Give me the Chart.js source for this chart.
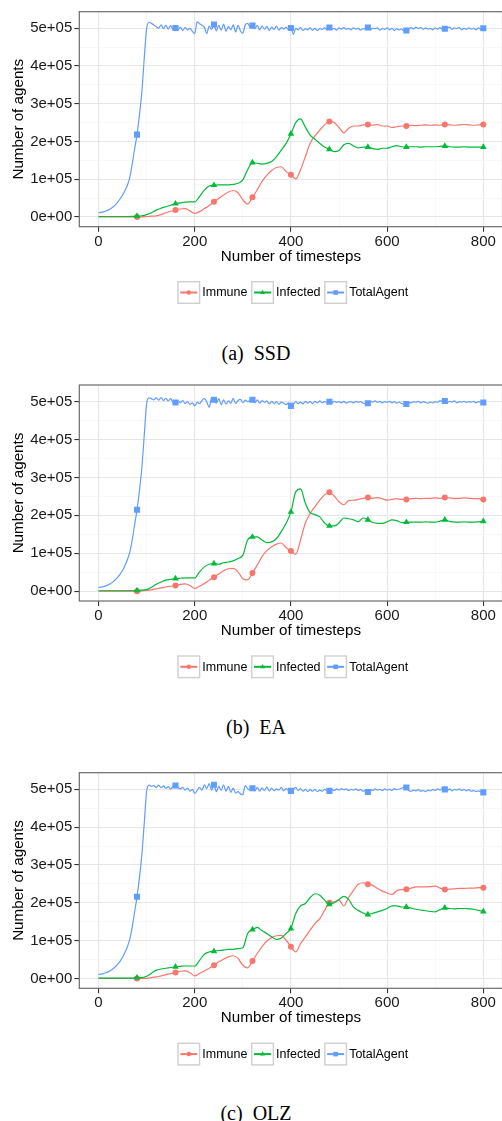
<!DOCTYPE html>
<html><head><meta charset="utf-8">
<script src="https://cdn.jsdelivr.net/npm/chart.js@4.4.1/dist/chart.umd.min.js"></script>
<style>
html,body{margin:0;padding:0;background:#fff;overflow:hidden;width:502px;height:1121px;position:relative;}
.panel{position:absolute;left:0;width:502px;height:320px;overflow:hidden;}
.cap{position:absolute;left:0;width:512px;text-align:center;font-family:"Liberation Serif","Times New Roman",serif;font-size:20px;color:#000;word-spacing:5px;line-height:1;white-space:nowrap;}
</style></head><body>
<div class="panel" id="p1" style="top:0px"><canvas id="c1" width="510" height="320"></canvas></div>
<div class="cap" style="top:343px">(a) SSD</div>
<div class="panel" id="p2" style="top:373px"><canvas id="c2" width="510" height="320"></canvas></div>
<div class="cap" style="top:717px">(b) EA</div>
<div class="panel" id="p3" style="top:761px"><canvas id="c3" width="510" height="320"></canvas></div>
<div class="cap" style="top:1103px">(c) OLZ</div>
<script>
// ---------------- data ----------------
const seriesNames = ['Immune', 'Infected', 'TotalAgent'];
const panelTitles = ['(a) SSD', '(b) EA', '(c) OLZ'];
const xTitle = 'Number of timesteps';
const yTitle = 'Number of agents';
const xMajorTicks = [0, 200, 400, 600, 800];
const xTickLabels = ['0', '200', '400', '600', '800'];
const xMinorTicks = [100, 300, 500, 700];
const yMajorTicks = [0, 100000, 200000, 300000, 400000, 500000];
const yTickLabels = ['0e+00', '1e+05', '2e+05', '3e+05', '4e+05', '5e+05'];
const yMinorTicks = [50000, 150000, 250000, 350000, 450000];
const markerSteps = [80, 160, 240, 320, 400, 480, 560, 640, 720, 800];

const steps10 = [0,10,20,30,40,50,60,70,80,90,100,110,120,130,140,150,160,170,180,190,200,210,220,230,240,250,260,270,280,290,300,310,320,330,340,350,360,370,380,390,400,410,420,430,440,450,460,470,480,490,500,510,520,530,540,550,560,570,580,590,600,610,620,630,640,650,660,670,680,690,700,710,720,730,740,750,760,770,780,790,800];
const steps5 = [0,5,10,15,20,25,30,35,40,45,50,55,60,65,70,75,80,85,90,95,100,105,110,115,120,125,130,135,140,145,150,155,160,165,170,175,180,185,190,195,200,205,210,215,220,225,230,235,240,245,250,255,260,265,270,275,280,285,290,295,300,305,310,315,320,325,330,335,340,345,350,355,360,365,370,375,380,385,390,395,400,405,410,415,420,425,430,435,440,445,450,455,460,465,470,475,480,485,490,495,500,505,510,515,520,525,530,535,540,545,550,555,560,565,570,575,580,585,590,595,600,605,610,615,620,625,630,635,640,645,650,655,660,665,670,675,680,685,690,695,700,705,710,715,720,725,730,735,740,745,750,755,760,765,770,775,780,785,790,795,800];

// (a) SSD
const ssdImmune = [0,0,0,0,0,0,0,0,0,300,
 1000,1800,2600,6000,11000,15000,18000,21000,22000,16000,
 9000,14000,22000,30000,40000,49000,58000,66000,70000,64000,
 45000,34000,52000,72000,94000,111000,123000,131000,133000,120000,
 112000,101000,125000,160000,195000,215000,230000,244000,253000,250000,
 237000,223000,235000,241000,241000,244000,245000,243000,245000,241000,
 241000,237000,239000,241000,241000,243000,242000,243000,244000,243000,
 244000,243000,245000,244000,243000,244000,245000,244000,243000,244000,
 245000];
const ssdInfected = [1000,1000,1000,1000,1000,1000,1000,1200,2000,3000,
 6000,11000,18000,23000,27000,31000,35000,37000,39000,40000,
 40000,54000,71000,82000,84000,85000,85000,85000,86000,89000,
 98000,125000,144000,142000,140000,142000,147000,160000,177000,195000,
 220000,250000,260000,238000,217000,206000,195000,185000,179000,173000,
 176000,191000,195000,188000,183000,185000,185000,181000,179000,182000,
 182000,186000,189000,186000,185000,186000,186000,185000,186000,186000,
 186000,187000,188000,186000,185000,185000,186000,185000,185000,185000,
 185000];
const ssdTotal = [11000,12000,13500,15500,18000,21500,26000,32000,39000,48000,
 58000,70000,84000,105000,140000,180000,218000,270000,330000,420000,
 500000,516000,513000,509000,504000,500000,509000,499000,508000,498000,
 507000,497000,501000,496000,503000,494000,502000,496000,500000,492000,
 486000,517000,512000,508000,503000,486000,506000,497000,510000,493000,
 508000,495000,511000,492000,505000,496000,509000,490000,508000,493000,
 487000,509000,513000,503000,507000,499000,508000,496000,506000,498000,
 505000,494000,503000,497000,506000,495000,502000,498000,503000,496000,
 501000,484000,500000,496000,502000,494000,499000,496000,501000,495000,
 500000,494000,499000,497000,501000,496000,502000,497000,500000,495000,
 501000,498000,502000,497000,500000,496000,501000,498000,500000,495000,
 499000,497000,502000,496000,500000,499000,501000,495000,499000,497000,
 501000,496000,500000,494000,499000,496000,498000,493000,494000,497000,
 502000,498000,503000,499000,502000,497000,501000,498000,500000,496000,
 501000,498000,502000,497000,499000,501000,503000,497000,501000,499000,
 502000,496000,500000,497000,501000,498000,500000,496000,501000,498000,
 500000];

// (b) EA
const eaImmune = [0,0,0,0,0,0,0,0,0,500,
 1800,3500,6000,8500,11000,13000,15000,18000,19000,15000,
 7000,13000,20000,29000,37000,45000,54000,59000,60000,51000,
 33000,30000,48000,69000,91000,107000,117000,124000,127000,115000,
 106000,97000,135000,180000,205000,223000,240000,254000,261000,251000,
 236000,228000,239000,240000,242000,245000,247000,245000,247000,244000,
 240000,242000,244000,242000,242000,244000,245000,244000,245000,245000,
 246000,245000,247000,246000,245000,245000,246000,245000,244000,244000,
 242000];
const eaInfected = [1000,1000,1000,1000,1000,1000,1000,1000,1800,2500,
 4000,10000,18000,24000,29000,31000,33000,34000,35000,35000,
 35000,51000,64000,71000,73000,71000,75000,77000,80000,86000,
 95000,135000,143000,143000,135000,128000,130000,139000,157000,179000,
 209000,262000,270000,232000,207000,202000,196000,180000,172000,172000,
 180000,193000,191000,188000,183000,193000,188000,181000,179000,179000,
 183000,188000,186000,181000,182000,182000,182000,182000,183000,182000,
 182000,185000,188000,184000,182000,182000,183000,182000,182000,183000,
 184000];
const eaTotal = [9700,10500,12000,14000,16500,20000,24500,30000,37000,45000,
 55000,68000,83000,103000,135000,175000,215000,265000,325000,410000,
 495000,510000,508000,505000,510000,504000,511000,503000,509000,502000,
 508000,498000,498000,502000,497000,503000,495000,500000,493000,497000,
 489000,498000,495000,503000,508000,500000,485000,510000,505000,496000,
 508000,492000,505000,494000,502000,496000,509000,495000,503000,506000,
 498000,504000,500000,502000,505000,497000,505000,496000,503000,498000,
 502000,494000,501000,495000,500000,493000,499000,496000,492000,497000,
 489000,493000,500000,495000,499000,494000,501000,496000,500000,495000,
 501000,497000,502000,497000,500000,498000,500000,497000,501000,498000,
 500000,497000,501000,496000,499000,500000,497000,501000,498000,500000,
 496000,494000,496000,501000,499000,502000,498000,501000,497000,500000,
 498000,501000,497000,500000,496000,499000,495000,493000,494000,498000,
 497000,500000,498000,501000,497000,500000,498000,496000,499000,497000,
 500000,498000,503000,500000,502000,498000,501000,499000,502000,497000,
 500000,499000,501000,498000,500000,499000,501000,497000,500000,499000,
 498000];

// (c) OLZ
const olzImmune = [0,0,0,0,0,0,0,0,0,200,
 500,2000,4000,7000,10000,13000,16000,19000,20000,15000,
 7000,13000,20000,27000,35000,44000,51000,57000,60000,53000,
 35000,28000,46000,66000,84000,99000,108000,113000,114000,101000,
 84000,70000,92000,110000,128000,145000,158000,180000,200000,202000,
 207000,192000,214000,233000,249000,253000,249000,246000,238000,231000,
 226000,222000,232000,235000,236000,239000,242000,242000,242000,243000,
 244000,239000,235000,236000,237000,238000,238000,239000,239000,240000,
 240000];
const olzInfected = [1000,1000,1000,1000,1000,1000,1000,1000,2000,2000,
 6000,14000,22000,25000,27000,29000,31000,32000,33000,33000,
 33000,48000,64000,70000,72000,74000,75000,77000,77000,79000,
 81000,119000,129000,135000,126000,119000,110000,103000,107000,119000,
 132000,172000,192000,198000,214000,224000,220000,207000,196000,200000,
 209000,217000,209000,189000,180000,173000,169000,172000,176000,180000,
 185000,192000,192000,189000,189000,186000,183000,181000,179000,177000,
 176000,182000,187000,185000,184000,185000,185000,184000,183000,180000,
 177000];
const olzTotal = [10500,11500,13000,15000,17500,21000,25500,31000,38000,46000,
 56000,69000,84000,104000,136000,176000,216000,266000,326000,410000,
 495000,511000,508000,510000,505000,511000,504000,509000,503000,507000,
 501000,508000,510000,505000,501000,505000,498000,503000,495000,500000,
 489000,497000,505000,498000,512000,502000,515000,498000,512000,494000,
 508000,497000,512000,495000,508000,492000,503000,490000,494000,488000,
 486000,510000,502000,498000,503000,496000,505000,495000,504000,497000,
 506000,495000,503000,496000,501000,498000,505000,496000,502000,497000,
 496000,499000,505000,497000,502000,495000,500000,494000,499000,495000,
 500000,494000,498000,495000,500000,497000,496000,500000,497000,501000,
 498000,502000,499000,501000,497000,500000,498000,501000,497000,500000,
 495000,497000,493000,499000,497000,501000,498000,500000,497000,501000,
 498000,500000,497000,502000,499000,501000,503000,506000,505000,497000,
 495000,498000,496000,499000,495000,497000,494000,498000,496000,500000,
 497000,501000,498000,502000,500000,497000,501000,496000,500000,498000,
 501000,497000,500000,496000,499000,495000,497000,494000,496000,493000,
 492000];

// ---------------- rendering ----------------
const FONT = '"Liberation Sans", Arial, Helvetica, sans-serif';
const COLORS = ['#F8766D', '#00BA38', '#619CFF'];
const STYLES = ['circle', 'triangle', 'rect'];
const RADII = [3.0, 3.8, 4.3];
Chart.defaults.font.family = FONT;

function pts(xs, ys) {
  if (xs.length !== ys.length) throw new Error('length mismatch ' + xs.length + ' vs ' + ys.length);
  return xs.map((x, i) => ({x: x, y: ys[i]}));
}
function makeDataset(k, xs, ys) {
  return {
    label: seriesNames[k], data: pts(xs, ys),
    borderColor: COLORS[k], backgroundColor: COLORS[k], borderWidth: 1.2,
    pointStyle: STYLES[k], pointBorderWidth: 0, pointHoverRadius: 0,
    pointRadius: ctx => (ctx.raw && markerSteps.includes(ctx.raw.x)) ? RADII[k] : 0,
    cubicInterpolationMode: 'monotone', order: 2 - k
  };
}

const borderPlugin = {
  id: 'ggBorder',
  afterDatasetsDraw(chart) {
    const a = chart.chartArea, ctx = chart.ctx;
    ctx.save(); ctx.strokeStyle = '#6b6b6b'; ctx.lineWidth = 1.2;
    ctx.strokeRect(a.left, a.top, a.right - a.left, a.bottom - a.top);
    ctx.restore();
  }
};
const legendPlugin = {
  id: 'ggLegend',
  afterDraw(chart) {
    const ctx = chart.ctx, a = chart.chartArea;
    const cy = a.bottom + 65.8;
    let x = 177.3;
    ctx.save();
    ctx.font = '12.5px ' + FONT; ctx.textBaseline = 'middle'; ctx.textAlign = 'left';
    for (let k = 0; k < 3; k++) {
      ctx.fillStyle = '#fff'; ctx.strokeStyle = '#cfcfcf'; ctx.lineWidth = 1.4;
      ctx.fillRect(x, cy - 11.5, 23, 23); ctx.strokeRect(x + 0.7, cy - 10.8, 21.6, 21.6);
      ctx.strokeStyle = COLORS[k]; ctx.lineWidth = 2;
      ctx.beginPath(); ctx.moveTo(x + 3, cy); ctx.lineTo(x + 20, cy); ctx.stroke();
      ctx.fillStyle = COLORS[k];
      Chart.helpers.drawPoint(ctx, {pointStyle: STYLES[k], radius: RADII[k] * 0.75, rotation: 0, borderWidth: 0}, x + 11.5, cy);
      ctx.fillStyle = '#000';
      ctx.fillText(seriesNames[k], x + 25, cy + 0.5);
      x += 25 + ctx.measureText(seriesNames[k]).width + 3.6;
    }
    ctx.restore();
  }
};

function tickSet(major, minor) {
  return major.concat(minor).sort((p, q) => p - q).map(v => ({value: v}));
}
function gridOpts(major) {
  return {
    color: c => major.includes(c.tick && c.tick.value) ? '#e6e6e6' : '#f3f3f3',
    lineWidth: c => major.includes(c.tick && c.tick.value) ? 1.1 : 0.6,
    tickColor: c => major.includes(c.tick && c.tick.value) ? '#333333' : 'rgba(0,0,0,0)',
    tickWidth: 1.1, tickLength: 5, drawTicks: true, drawOnChartArea: true
  };
}

function makeChart(id, padTop, plotH, imm, inf, tot) {
  const H = 320, XH = 40;
  new Chart(document.getElementById(id), {
    type: 'line',
    data: {datasets: [makeDataset(0, steps10, imm), makeDataset(1, steps10, inf), makeDataset(2, steps5, tot)]},
    options: {
      responsive: false, animation: false, devicePixelRatio: 1, events: [],
      layout: {padding: {top: padTop, left: 0, right: 510 - 502.55, bottom: H - padTop - plotH - XH}},
      plugins: {legend: {display: false}, tooltip: {enabled: false}, title: {display: false}},
      scales: {
        x: {
          type: 'linear', min: -40, max: 840,
          afterBuildTicks: s => { s.ticks = tickSet(xMajorTicks, xMinorTicks); },
          afterFit: s => { s.height = XH; },
          ticks: {
            autoSkip: false, maxRotation: 0, padding: 1, color: '#1a1a1a', font: {size: 15},
            callback: v => { const i = xMajorTicks.indexOf(v); return i >= 0 ? xTickLabels[i] : ''; }
          },
          grid: gridOpts(xMajorTicks), border: {display: false},
          title: {display: true, text: xTitle, color: '#000', font: {size: 15.2}, padding: {top: 0, bottom: 1.2}}
        },
        y: {
          type: 'linear', min: -26000, max: 544000,
          afterBuildTicks: s => { s.ticks = tickSet(yMajorTicks, yMinorTicks); },
          afterFit: s => { s.width = 79.3; },
          ticks: {
            autoSkip: false, padding: 2, color: '#1a1a1a', font: {size: 15},
            callback: v => { const i = yMajorTicks.indexOf(v); return i >= 0 ? yTickLabels[i] : ''; }
          },
          grid: gridOpts(yMajorTicks), border: {display: false},
          title: {display: true, text: yTitle, color: '#000', font: {size: 15.2}, padding: {top: 9.6, bottom: 0}}
        }
      }
    },
    plugins: [borderPlugin, legendPlugin]
  });
}

makeChart('c1', 11.7, 215, ssdImmune, ssdInfected, ssdTotal);
makeChart('c2', 12.0, 216, eaImmune, eaInfected, eaTotal);
makeChart('c3', 11.7, 215.6, olzImmune, olzInfected, olzTotal);
</script>
</body></html>
